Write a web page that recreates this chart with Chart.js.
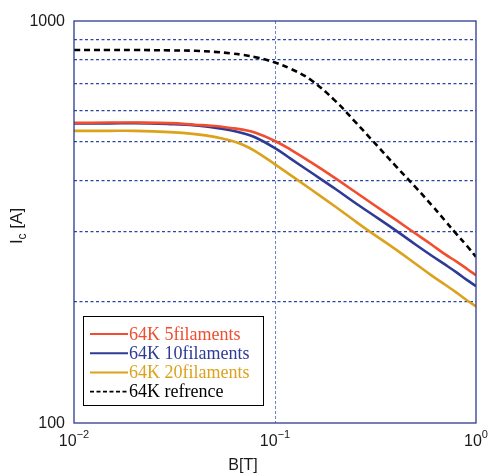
<!DOCTYPE html>
<html>
<head>
<meta charset="utf-8">
<script src="https://cdn.jsdelivr.net/npm/chart.js@4.4.0/dist/chart.umd.min.js"></script>
<style>
html,body{margin:0;padding:0;background:#fff}
</style>
</head>
<body>
<canvas id="icChart" width="489" height="474"></canvas>
<script>
// values
var fieldB = [0.01,0.015,0.02,0.03,0.04,0.05,0.06,0.07,0.08,0.1,0.12,0.15,0.2,0.25,0.3,0.4,0.5,0.6,0.7,0.8,0.9,1.0];
var ic5   = [558,559,559,557,552,548,542,536,527,503,478,446,406,376,353,320,296,278,263,252,242,233];
var ic10  = [556,556,557,554,550,543,535,525,513,483,454,421,382,353,332,301,278,261,248,237,227,219];
var ic20  = [533,533,533,529,523,515,504,491,474,440,413,382,345,318,298,270,249,233,221,211,202,195];
var icRef = [847,847,847,845,843,838,831,823,813,788,760,715,632,562,509,435,386,349,319,295,276,259];
var seriesNames = ["64K 5filaments","64K 10filaments","64K 20filaments","64K refrence"];
var seriesColors = ["#f04e2e","#2e3b96","#dca21c","#000000"];
var xTicks = [0.01,0.1,1];
var xExp = ["\u22122","\u22121","0"];
var yTicks = [100,200,300,400,500,600,700,800,900,1000];
var yLabelTicks = [100,1000];

function pts(arr){
	return fieldB.map(function(b,i){ return {x:b, y:arr[i]}; });
}

var decor = {
	id:'decor',
	afterDatasetsDraw:function(chart){
		var ctx = chart.ctx, a = chart.chartArea, sx = chart.scales.x, sy = chart.scales.y;
		ctx.save();
		// frame
		ctx.strokeStyle = '#2b3990';
		ctx.lineWidth = 1.3;
		ctx.strokeRect(a.left, a.top, a.right - a.left, a.bottom - a.top);

		ctx.fillStyle = '#1a1a1a';
		ctx.textBaseline = 'alphabetic';
		// y tick labels
		ctx.font = '16px "Liberation Sans", Arial, sans-serif';
		ctx.textAlign = 'right';
		yLabelTicks.forEach(function(v){
			ctx.fillText(String(v), a.left - 9, sy.getPixelForValue(v) + 4.5);
		});
		// x tick labels 10^n
		ctx.textAlign = 'left';
		xTicks.forEach(function(v,i){
			ctx.font = '16px "Liberation Sans", Arial, sans-serif';
			var w1 = ctx.measureText('10').width;
			ctx.font = '11px "Liberation Sans", Arial, sans-serif';
			var w2 = ctx.measureText(xExp[i]).width;
			var x0 = sx.getPixelForValue(v) - (w1 + w2) / 2;
			ctx.font = '16px "Liberation Sans", Arial, sans-serif';
			ctx.fillText('10', x0, 446);
			ctx.font = '11px "Liberation Sans", Arial, sans-serif';
			ctx.fillText(xExp[i], x0 + w1, 438);
		});
		// x title
		ctx.font = '16px "Liberation Sans", Arial, sans-serif';
		ctx.textAlign = 'center';
		ctx.fillText('B[T]', 243, 470);
		// y title with subscript
		ctx.translate(22, 226);
		ctx.rotate(-Math.PI / 2);
		ctx.textAlign = 'left';
		ctx.font = '17px "Liberation Sans", Arial, sans-serif';
		var wI = ctx.measureText('I').width;
		var wR = ctx.measureText(' [A]').width;
		ctx.font = '12px "Liberation Sans", Arial, sans-serif';
		var wc = ctx.measureText('c').width;
		var sx0 = -(wI + wc + wR) / 2;
		ctx.font = '17px "Liberation Sans", Arial, sans-serif';
		ctx.fillText('I', sx0, 0);
		ctx.font = '12px "Liberation Sans", Arial, sans-serif';
		ctx.fillText('c', sx0 + wI, 4);
		ctx.font = '17px "Liberation Sans", Arial, sans-serif';
		ctx.fillText(' [A]', sx0 + wI + wc, 0);
		ctx.restore();

		// legend
		ctx.save();
		ctx.fillStyle = '#fff';
		ctx.fillRect(83.5, 316.5, 180, 89);
		ctx.strokeStyle = '#000';
		ctx.lineWidth = 1;
		ctx.strokeRect(83.5, 316.5, 180, 89);
		ctx.font = '18px "Liberation Serif", "Times New Roman", serif';
		ctx.textBaseline = 'middle';
		ctx.textAlign = 'left';
		seriesNames.forEach(function(n,i){
			var yy = 334 + i * 19.2;
			ctx.strokeStyle = seriesColors[i];
			ctx.lineWidth = i == 3 ? 1.6 : 2;
			ctx.setLineDash(i == 3 ? [4,2.5] : []);
			ctx.beginPath();
			ctx.moveTo(90, yy);
			ctx.lineTo(128, yy);
			ctx.stroke();
			ctx.fillStyle = seriesColors[i];
			ctx.fillText(n, 129, yy + 1);
		});
		ctx.restore();
	}
};

var sets = [ic5, ic10, ic20, icRef].map(function(arr,i){
	return {
		label: seriesNames[i],
		data: pts(arr),
		borderColor: seriesColors[i],
		borderWidth: 2.6,
		borderDash: i == 3 ? [6,4] : [],
		pointRadius: 0,
		fill: false,
		tension: 0.4
	};
});

new Chart(document.getElementById('icChart'), {
	type: 'line',
	data: { datasets: sets },
	options: {
		responsive: false,
		animation: false,
		devicePixelRatio: 1,
		layout: { padding: { left: 74, right: 13, top: 21, bottom: 51 } },
		plugins: { legend: { display: false }, tooltip: { enabled: false } },
		scales: {
			x: {
				type: 'logarithmic', min: 0.01, max: 1,
				afterBuildTicks: function(s){ s.ticks = xTicks.map(function(v){ return {value:v}; }); },
				ticks: { display: false },
				grid: {
					drawTicks: false, lineWidth: 1,
					color: function(c){ return c.tick && c.tick.value === 0.1 ? 'rgba(100,125,200,0.95)' : 'rgba(0,0,0,0)'; }
				},
				border: { display: false, dash: [3,2] }
			},
			y: {
				type: 'logarithmic', min: 100, max: 1000,
				afterBuildTicks: function(s){ s.ticks = yTicks.map(function(v){ return {value:v}; }); },
				ticks: { display: false },
				grid: {
					drawTicks: false, lineWidth: 1.3,
					color: function(c){ return c.tick && (c.tick.value === 100 || c.tick.value === 1000) ? 'rgba(0,0,0,0)' : 'rgba(30,62,160,0.95)'; }
				},
				border: { display: false, dash: [3,2.5] }
			}
		}
	},
	plugins: [decor]
});
</script>
</body>
</html>
